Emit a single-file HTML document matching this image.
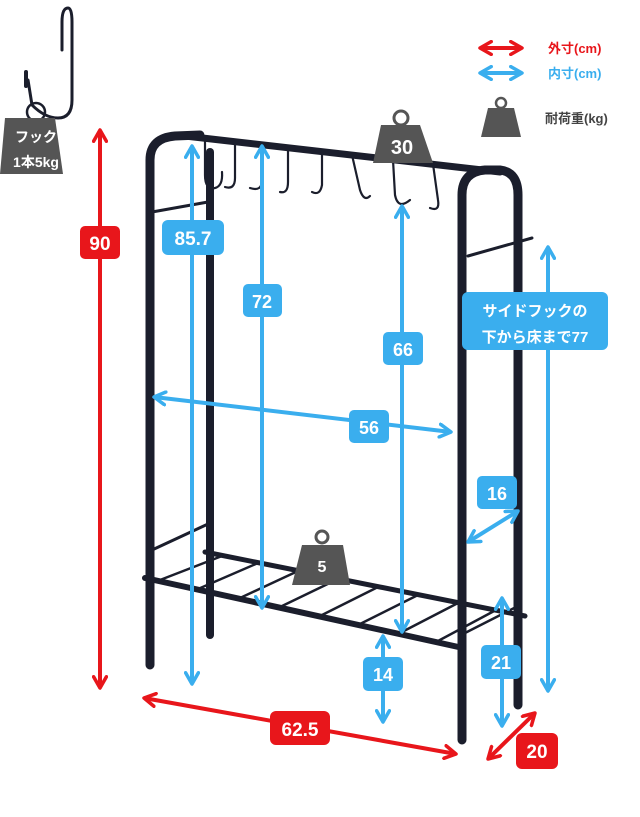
<!DOCTYPE html>
<html><head><meta charset="utf-8"><style>
html,body{margin:0;padding:0;background:#fff;}
svg{display:block;font-family:"Liberation Sans","Noto Sans CJK JP",sans-serif;}
.lb{font-weight:bold;fill:#fff;text-anchor:middle;}
</style></head><body>
<svg width="640" height="817" viewBox="0 0 640 817" xmlns="http://www.w3.org/2000/svg">
<defs>
<marker id="rb" viewBox="0 0 10 10" refX="8" refY="5" markerWidth="4" markerHeight="4" orient="auto-start-reverse" markerUnits="strokeWidth"><polyline points="1,1 8,5 1,9" fill="none" stroke="#3aaeee" stroke-width="2.2" stroke-linecap="round" stroke-linejoin="round"/></marker>
<marker id="rr" viewBox="0 0 10 10" refX="8" refY="5" markerWidth="4" markerHeight="4" orient="auto-start-reverse" markerUnits="strokeWidth"><polyline points="1,1 8,5 1,9" fill="none" stroke="#e8161b" stroke-width="2.2" stroke-linecap="round" stroke-linejoin="round"/></marker>
</defs>

<!-- frame -->
<g stroke="#1b1e2c" fill="none" stroke-linecap="round">
<path d="M150,665 L150,160 Q150,138 175,136 L200,135" stroke-width="9"/>
<path d="M210,635 L210,152" stroke-width="8"/>
<path d="M185,136 L500,172" stroke-width="7"/>
<path d="M462,740 L462,195 Q462,172 485,170 L500,170 Q518,172 518,195 L518,705" stroke-width="9"/>
<path d="M152,212 L208,202" stroke-width="3"/>
<path d="M468,256 L532,238" stroke-width="3"/>
<path d="M152,550 L208,524" stroke-width="3"/>
<path d="M145,578 L463,648" stroke-width="6"/>
<path d="M205,552 L525,616" stroke-width="5"/>
<g stroke-width="2.5">
<path d="M160,580 L222,556"/><path d="M198,589 L258,563"/><path d="M240,598 L298,571"/><path d="M280,607 L338,579"/><path d="M320,616 L378,587"/><path d="M360,624 L418,595"/><path d="M400,633 L458,603"/><path d="M438,641 L496,610"/>
<path d="M465,633 L520,605"/>
</g>
<!-- hooks -->
<g stroke-width="2.2">
<path d="M205,140 L205,175 Q205,190 215,188 Q223,186 222,172"/>
<path d="M235,143 L235,178 Q235,190 225,187"/>
<path d="M262,146 L262,180 Q262,192 250,188"/>
<path d="M288,148 L288,182 Q288,194 280,192"/>
<path d="M322,152 L322,185 Q320,196 312,192"/>
<path d="M352,155 L360,190 Q364,202 370,196"/>
<path d="M393,160 L395,195 Q398,210 410,200"/>
<path d="M433,164 L438,200 Q440,212 430,208"/>
</g>
<!-- big hook -->
<path d="M62,50 L62,22 Q62,8 68,8 Q72,8 72,22 L72,100 Q72,118 58,118 Q45,118 32,105 L28,80" stroke-width="3"/>
<path d="M26,72 L26,86" stroke-width="4"/>
<circle cx="36" cy="112" r="9" stroke-width="2.5"/>
</g>

<!-- weights -->
<g fill="#555">
<circle cx="401" cy="118" r="7" fill="none" stroke="#555" stroke-width="3"/>
<polygon points="381,125 420,125 433,163 373,163"/>
<circle cx="322" cy="537" r="6" fill="none" stroke="#555" stroke-width="3"/>
<polygon points="302,545 343,545 350,585 292,585"/>
<polygon points="5,118 55,118 63,174 0,174"/>
<circle cx="501" cy="103" r="5" fill="none" stroke="#555" stroke-width="2.5"/>
<polygon points="488,108 514,108 521,137 481,137"/>
</g>
<text x="402" y="154" class="lb" font-size="20">30</text>
<text x="322" y="572" class="lb" font-size="16">5</text>
<text x="36" y="142" class="lb" font-size="14">フック</text>
<text x="36" y="167" class="lb" font-size="14">1本5kg</text>

<!-- legend -->
<line x1="480" y1="48" x2="522" y2="48" stroke="#e8161b" stroke-width="4" marker-start="url(#rr)" marker-end="url(#rr)"/>
<line x1="480" y1="73" x2="522" y2="73" stroke="#3aaeee" stroke-width="4" marker-start="url(#rb)" marker-end="url(#rb)"/>
<text x="548" y="53" font-size="13" font-weight="bold" fill="#e8161b">外寸(cm)</text>
<text x="548" y="78" font-size="13" font-weight="bold" fill="#3aaeee">内寸(cm)</text>
<text x="545" y="123" font-size="13" font-weight="bold" fill="#444">耐荷重(kg)</text>

<!-- red arrows -->
<g stroke="#e8161b" stroke-width="4" fill="none">
<line x1="100" y1="130" x2="100" y2="688" marker-start="url(#rr)" marker-end="url(#rr)"/>
<line x1="144" y1="698" x2="456" y2="754" marker-start="url(#rr)" marker-end="url(#rr)"/>
<line x1="488" y1="759" x2="535" y2="713" marker-start="url(#rr)" marker-end="url(#rr)"/>
</g>
<!-- blue arrows -->
<g stroke="#3aaeee" stroke-width="4" fill="none">
<line x1="192" y1="146" x2="192" y2="684" marker-start="url(#rb)" marker-end="url(#rb)"/>
<line x1="262" y1="146" x2="262" y2="608" marker-start="url(#rb)" marker-end="url(#rb)"/>
<line x1="402" y1="206" x2="402" y2="632" marker-start="url(#rb)" marker-end="url(#rb)"/>
<line x1="154" y1="397" x2="451" y2="432" marker-start="url(#rb)" marker-end="url(#rb)"/>
<line x1="548" y1="247" x2="548" y2="691" marker-start="url(#rb)" marker-end="url(#rb)"/>
<line x1="468" y1="542" x2="518" y2="511" marker-start="url(#rb)" marker-end="url(#rb)"/>
<line x1="502" y1="598" x2="502" y2="726" marker-start="url(#rb)" marker-end="url(#rb)"/>
<line x1="383" y1="636" x2="383" y2="722" marker-start="url(#rb)" marker-end="url(#rb)"/>
</g>

<!-- labels -->
<g>
<rect x="80" y="226" width="40" height="33" rx="5" fill="#e8161b"/>
<text x="100" y="250" class="lb" font-size="19">90</text>
<rect x="270" y="711" width="60" height="34" rx="6" fill="#e8161b"/>
<text x="300" y="736" class="lb" font-size="19">62.5</text>
<rect x="516" y="733" width="42" height="36" rx="6" fill="#e8161b"/>
<text x="537" y="758" class="lb" font-size="19">20</text>

<rect x="162" y="220" width="62" height="35" rx="6" fill="#3aaeee"/>
<text x="193" y="245" class="lb" font-size="19">85.7</text>
<rect x="243" y="284" width="39" height="33" rx="5" fill="#3aaeee"/>
<text x="262" y="308" class="lb" font-size="18">72</text>
<rect x="383" y="332" width="40" height="33" rx="5" fill="#3aaeee"/>
<text x="403" y="356" class="lb" font-size="18">66</text>
<rect x="349" y="410" width="40" height="33" rx="5" fill="#3aaeee"/>
<text x="369" y="434" class="lb" font-size="18">56</text>
<rect x="462" y="292" width="146" height="58" rx="6" fill="#3aaeee"/>
<text x="535" y="316" class="lb" font-size="15">サイドフックの</text>
<text x="535" y="342" class="lb" font-size="15">下から床まで77</text>
<rect x="477" y="476" width="40" height="33" rx="5" fill="#3aaeee"/>
<text x="497" y="500" class="lb" font-size="18">16</text>
<rect x="481" y="645" width="40" height="34" rx="5" fill="#3aaeee"/>
<text x="501" y="669" class="lb" font-size="18">21</text>
<rect x="363" y="657" width="40" height="34" rx="5" fill="#3aaeee"/>
<text x="383" y="681" class="lb" font-size="18">14</text>
</g>
</svg>
</body></html>
